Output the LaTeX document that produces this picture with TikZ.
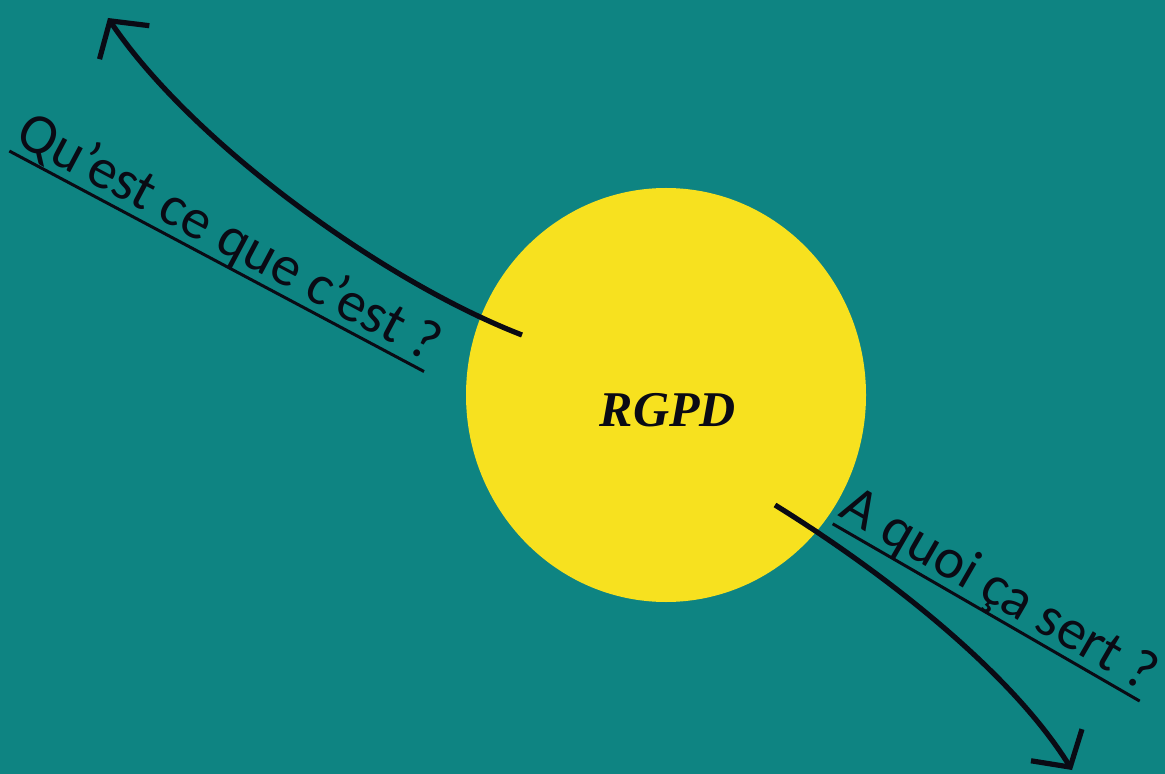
\documentclass[tikz,border=0pt]{standalone}
\usepackage{fontspec}
\setmainfont{Carlito}
\newfontfamily\rgpdfont{Liberation Serif}
\usetikzlibrary{arrows.meta,shapes.geometric}
\definecolor{bgteal}{HTML}{0E8482}
\definecolor{sunyellow}{HTML}{F7E11F}
\definecolor{inkblack}{HTML}{0A0A14}
\newcommand\thickul[1]{\setbox0\hbox{#1}\rlap{\rule[-5.5pt]{\wd0}{1.5pt}}\box0}
\tikzset{
  curvearrow/.style={draw=inkblack,line width=2.6pt,-{Straight Barb[length=13pt,width=30pt,line width=2.6pt]}},
  question/.style={text=inkblack,font=\fontsize{28.5}{32}\selectfont,inner sep=0pt},
  bubble/.style={ellipse,fill=sunyellow,minimum width=200pt,minimum height=207pt,inner sep=0pt}
}
\begin{document}
\begin{tikzpicture}[x=0.5pt,y=-0.5pt]
\fill[bgteal] (0,0) rectangle (1165,774);
\useasboundingbox (0,0) rectangle (1165,774);
\node[bubble] (c) at (666,395) {};
\node[text=inkblack,font=\rgpdfont\bfseries\itshape\fontsize{25}{30}\selectfont] (t) at (668,410) {RGPD};
\coordinate (s1) at (522,335);
\coordinate (e1) at (108,18);
\coordinate (s2) at (775,505);
\coordinate (e2) at (1072,770);
\draw[curvearrow] (s1) .. controls (380,280) and (190,140) .. (e1);
\draw[curvearrow] (s2) .. controls (880,570) and (1010,670) .. (e2);
\node[question,rotate=-28] (q1) at (228,240) {\thickul{Qu'est ce que c'est ?}};
\node[question,rotate=-30] (q2) at (998,592) {\thickul{A quoi ça sert ?}};
\end{tikzpicture}
\end{document}
